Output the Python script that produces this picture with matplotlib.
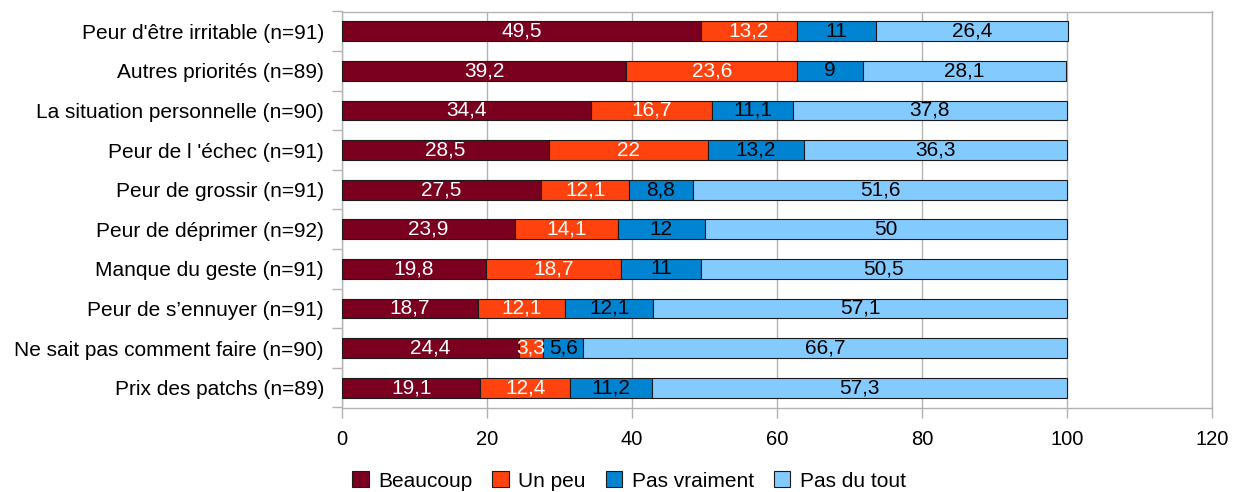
import matplotlib
matplotlib.use("Agg")
import matplotlib.pyplot as plt
import numpy as np
from matplotlib.patches import Patch

plt.rcParams['font.family'] = ['Liberation Sans', 'DejaVu Sans']

categories = [
    "Peur d'être irritable (n=91)",
    "Autres priorités (n=89)",
    "La situation personnelle (n=90)",
    "Peur de l 'échec (n=91)",
    "Peur de grossir (n=91)",
    "Peur de déprimer (n=92)",
    "Manque du geste (n=91)",
    "Peur de s’ennuyer (n=91)",
    "Ne sait pas comment faire (n=90)",
    "Prix des patchs (n=89)",
]
beaucoup = [49.5, 39.2, 34.4, 28.5, 27.5, 23.9, 19.8, 18.7, 24.4, 19.1]
un_peu = [13.2, 23.6, 16.7, 22, 12.1, 14.1, 18.7, 12.1, 3.3, 12.4]
pas_vraiment = [11, 9, 11.1, 13.2, 8.8, 12, 11, 12.1, 5.6, 11.2]
pas_du_tout = [26.4, 28.1, 37.8, 36.3, 51.6, 50, 50.5, 57.1, 66.7, 57.3]
series_names = ["Beaucoup", "Un peu", "Pas vraiment", "Pas du tout"]
colors = ["#7b0020", "#ff420e", "#0084d1", "#83caff"]
text_colors = ["white", "white", "black", "black"]
xticks = [0, 20, 40, 60, 80, 100, 120]

FS = 15
fig = plt.figure(figsize=(12.38, 4.92), dpi=100)
ax = fig.add_axes([342/1238, 1-407.5/492, 870/1238, 396/492])

y = np.arange(len(categories))
left = np.zeros(len(categories))
for vals, col, tc in zip([beaucoup, un_peu, pas_vraiment, pas_du_tout], colors, text_colors):
    vals = np.array(vals, dtype=float)
    ax.barh(y, vals, left=left, height=0.505, color=col, edgecolor="#1a1a1a", linewidth=0.8, zorder=3)
    for yi, l, v in zip(y, left, vals):
        label = f"{v:g}".replace(".", ",")
        ax.text(l + v/2, yi, label, ha="center", va="center", color=tc, fontsize=FS, zorder=4)
    left += vals

ax.set_xlim(0, 120)
ax.set_ylim(len(categories) - 0.5, -0.5)
ax.set_xticks(xticks)
ax.set_xticklabels([str(t) for t in xticks], fontsize=14.5)
ax.set_yticks(y)
ax.set_yticklabels(categories, fontsize=FS)
ax.set_yticks(np.arange(len(categories) + 1) - 0.5, minor=True)
ax.tick_params(axis='y', which='major', length=0, pad=13)
ax.tick_params(axis='y', which='minor', length=7.2, color="#b3b3b3", width=1, direction='out')
ax.tick_params(axis='x', which='major', length=7.2, width=1, pad=9, color="#b3b3b3", direction='out')
ax.grid(axis='x', color="#b3b3b3", linewidth=1, zorder=0)
for s in ax.spines.values():
    s.set_color("#b3b3b3")
    s.set_linewidth(1)

handles = [Patch(facecolor=c, edgecolor="#1a1a1a", linewidth=0.8) for c in colors]
fig.legend(handles, series_names, loc="center", bbox_to_anchor=(629/1238, 1-481/492),
           ncol=4, frameon=False, fontsize=FS, handlelength=0.8, handleheight=0.8,
           handletextpad=0.45, columnspacing=0.95, borderpad=0)

fig.savefig("out.png", dpi=100)
